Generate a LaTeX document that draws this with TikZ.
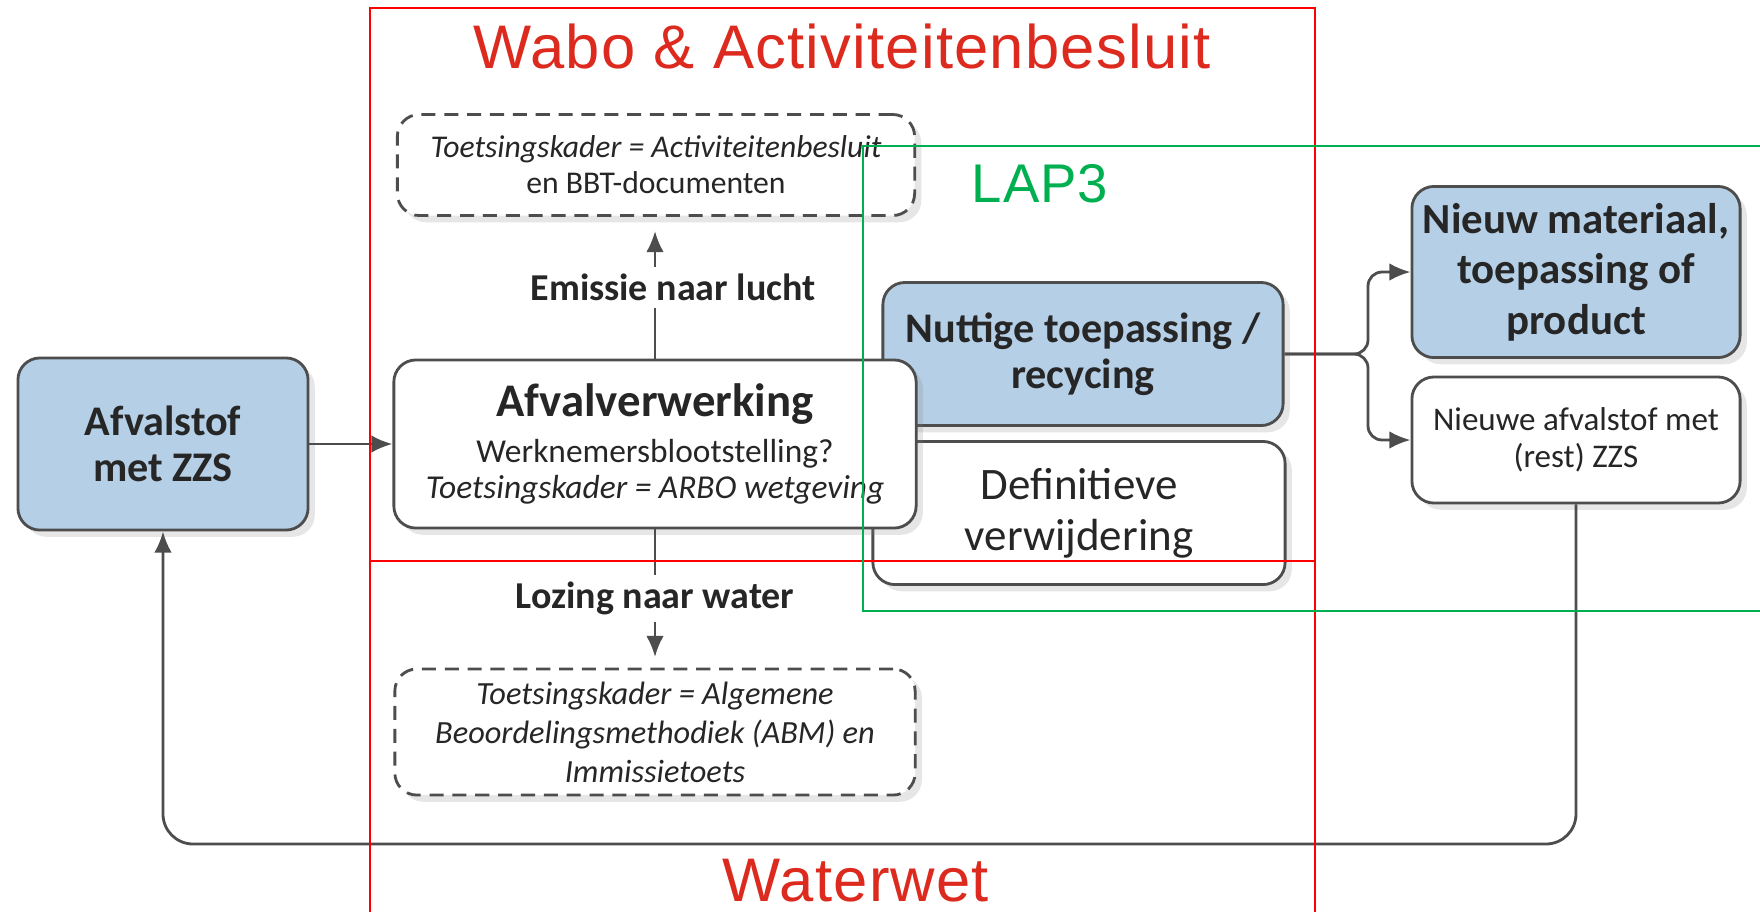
\documentclass[tikz,border=0pt]{standalone}
\usepackage{fontspec}
\setmainfont{Carlito}
\newfontfamily\kopfont[LetterSpace=2]{Liberation Sans}
\usetikzlibrary{arrows.meta,shadows}

\begin{document}
\begin{tikzpicture}[x=0.01cm,y=-0.01cm]
  \definecolor{blokblauw}{HTML}{B5CFE7}
  \definecolor{lijngrijs}{HTML}{4D4D4D}
  \definecolor{kaderrood}{HTML}{FF0000}
  \definecolor{koprood}{HTML}{DC2A1E}
  \definecolor{lapgroen}{HTML}{00B050}
  \tikzstyle{blok}=[draw=lijngrijs, line width=0.8pt, rounded corners=0.22cm, fill=white, align=center, inner sep=0pt, text=black!85, drop shadow={opacity=0.2, shadow xshift=0.4ex, shadow yshift=-0.4ex}]
  \tikzstyle{blauwblok}=[blok, fill=blokblauw]
  \tikzstyle{kaderblok}=[blok, dash pattern=on 4pt off 2.5pt]
  \tikzstyle{pijl}=[draw=lijngrijs, line width=0.8pt, -{Latex[length=6pt,width=5pt]}]
  \tikzstyle{stroomlabel}=[fill=white, inner sep=2pt, font=\fontsize{10.8}{12}\selectfont\bfseries, text=black!85]
  \tikzstyle{kop}=[font=\kopfont\fontsize{17.5}{20}\selectfont, text=koprood]

  \useasboundingbox (0,0) rectangle (1760,911);
  \clip (0,0) rectangle (1760,911);

  % blokken
  \node[blauwblok, minimum width=2.9cm, minimum height=1.72cm, font=\fontsize{12}{13}\selectfont\bfseries] (afval) at (163,444) {Afvalstof\\met ZZS};
  \node[kaderblok, minimum width=5.17cm, minimum height=1.01cm, font=\fontsize{9}{10.2}\selectfont] (toetslucht) at (656,165) {\textit{Toetsingskader = Activiteitenbesluit}\\en BBT-documenten};
  \node[blok, minimum width=4.12cm, minimum height=1.43cm, font=\fontsize{12.8}{14.4}\selectfont] (definitief) at (1079,513) {Definitieve\\verwijdering};
  \node[blauwblok, minimum width=4cm, minimum height=1.43cm, font=\fontsize{12}{13}\selectfont\bfseries] (nuttig) at (1083,354) {Nuttige toepassing /\\recycing};
  \node[blok, minimum width=5.22cm, minimum height=1.68cm, font=\fontsize{9.5}{10.2}\selectfont] (verwerking) at (655,444) {{\fontsize{13.3}{15}\selectfont\bfseries Afvalverwerking}\\[3pt]Werknemersblootstelling?\\\textit{Toetsingskader = ARBO wetgeving}};
  \node[kaderblok, minimum width=5.2cm, minimum height=1.26cm, font=\fontsize{9.2}{11.1}\selectfont\itshape] (toetswater) at (655,732) {Toetsingskader = Algemene\\Beoordelingsmethodiek (ABM) en\\Immissietoets};
  \node[blauwblok, minimum width=3.28cm, minimum height=1.71cm, font=\fontsize{12.2}{14.4}\selectfont\bfseries] (nieuw) at (1576,272) {Nieuw materiaal,\\toepassing of\\product};
  \node[blok, minimum width=3.28cm, minimum height=1.26cm, font=\fontsize{9.4}{10.5}\selectfont] (rest) at (1576,440) {Nieuwe afvalstof met\\(rest) ZZS};

  % stromen
  \coordinate (lus) at (0,844);
  \draw[pijl] (afval) -- (verwerking);
  \draw[pijl, shorten >=4pt] (verwerking.north) -- node[stroomlabel, xshift=0.18cm] {Emissie naar lucht} (verwerking.north |- toetslucht.south);
  \draw[pijl, shorten >=3pt] (verwerking.south) -- node[stroomlabel] {Lozing naar water} (verwerking.south |- toetswater.north);
  \draw[pijl, rounded corners=4pt] (nuttig.east) -| (1368,300) |- (nieuw.west);
  \draw[pijl, rounded corners=4pt] (nuttig.east) -| (1368,400) |- (rest.west);
  \draw[pijl, rounded corners=0.3cm] (rest.south) |- (afval.south |- lus) -- (afval.south);

  % kaders
  \draw[kaderrood, line width=0.8pt] (370,8) rectangle (1315,561);
  \draw[kaderrood, line width=0.8pt] (370,561) rectangle (1315,930);
  \draw[lapgroen, line width=0.8pt] (863,146) rectangle (1800,611);
  \node[kop] (wabo) at (842,46) {Wabo \& Activiteitenbesluit};
  \node[kop] (waterwet) at (856,881) {Waterwet};
  \node[font=\kopfont\fontsize{15.5}{17}\selectfont, text=lapgroen] (lap) at (1040,184) {LAP3};
\end{tikzpicture}
\end{document}
